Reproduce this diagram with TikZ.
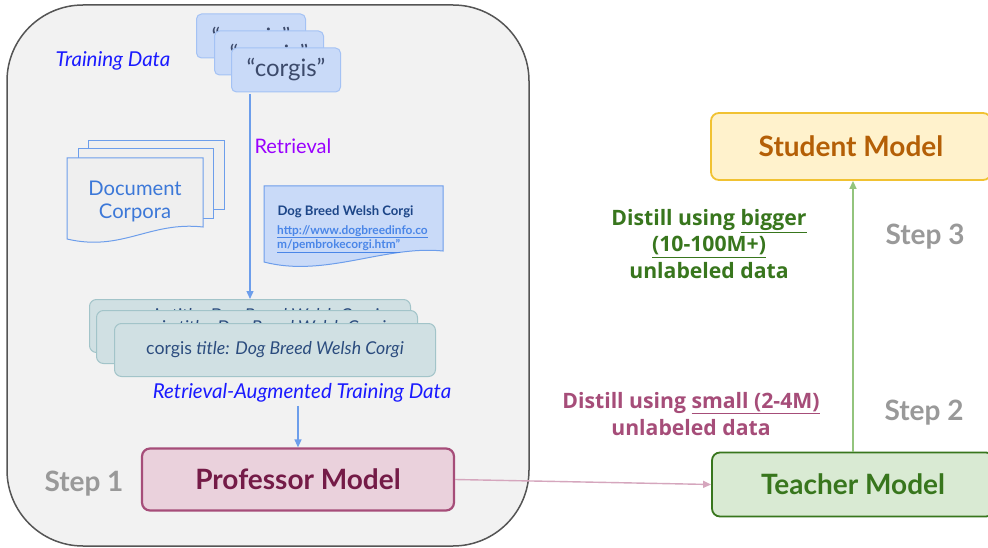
\documentclass[tikz,border=0pt]{standalone}
\usepackage{fontspec}
\setmainfont{Lato}
\newfontfamily\distillfont{Open Sans}
\usetikzlibrary{arrows.meta}

\definecolor{panelfill}{HTML}{F2F2F2}
\definecolor{panelline}{HTML}{555555}
\definecolor{querycard}{HTML}{C9DAF8}
\definecolor{querycardline}{HTML}{A4C2F4}
\definecolor{querytext}{HTML}{3C4A6B}
\definecolor{flowblue}{HTML}{6D9EEB}
\definecolor{labelblue}{HTML}{1A1AFF}
\definecolor{retrpurple}{HTML}{9900FF}
\definecolor{docfill}{HTML}{EFEFEF}
\definecolor{doctext}{HTML}{3C78D8}
\definecolor{titleblue}{HTML}{1C4587}
\definecolor{linkblue}{HTML}{4A86E8}
\definecolor{ragfill}{HTML}{D0E0E3}
\definecolor{ragline}{HTML}{A2C4C9}
\definecolor{ragtext}{HTML}{2B4C7E}
\definecolor{proffill}{HTML}{EAD1DC}
\definecolor{profline}{HTML}{A64D79}
\definecolor{proftext}{HTML}{741B47}
\definecolor{pinkline}{HTML}{D5A6BD}
\definecolor{teachfill}{HTML}{D9EAD3}
\definecolor{teachline}{HTML}{38761D}
\definecolor{studfill}{HTML}{FFF2CC}
\definecolor{studline}{HTML}{F1C232}
\definecolor{studtext}{HTML}{B45F06}
\definecolor{greenline}{HTML}{93C47D}
\definecolor{stepgray}{HTML}{999999}

\tikzset{
  querybox/.style={draw=querycardline, fill=querycard, line width=1pt,
    rounded corners=5pt, minimum width=109pt, minimum height=44pt,
    text=querytext, font=\fontsize{24}{26}\selectfont},
  ragbox/.style={draw=ragline, fill=ragfill, line width=1pt,
    rounded corners=7pt, minimum width=321pt, minimum height=53pt,
    text=ragtext, font=\fontsize{17.7}{20}\selectfont},
  modelbox/.style={rounded corners=8pt, line width=2.2pt,
    font=\bfseries\fontsize{28}{30}\selectfont},
  steplabel/.style={text=stepgray, font=\bfseries\fontsize{28}{30}\selectfont},
  flowarrow/.style={draw=flowblue, line width=1.4pt,
    -{Triangle[length=8pt,width=7pt]}},
  italiclabel/.style={text=labelblue, font=\itshape\fontsize{20.5}{23}\selectfont},
  docsheet/.style={draw=flowblue, line width=1pt, fill=docfill},
  distill/.style={font=\distillfont\bfseries\fontsize{21.2}{26.5}\selectfont,
    align=center}
}

\begin{document}
\begin{tikzpicture}[x=1pt,y=-1pt]
  \useasboundingbox (0,0) rectangle (988,548);
  \clip (0,0) rectangle (988,548);
  \fill[white] (0,0) rectangle (988,548);

  % left panel holding the retrieval stage
  \draw[draw=panelline, fill=panelfill, line width=1.5pt, rounded corners=76pt]
    (7,5) rectangle (529,546);

  \node[italiclabel] (trainlbl) at (113,61) {Training Data};

  % stacked query cards; the rear ones are mostly hidden
  \node[querybox] (q1) at (251,36) {\raisebox{-10pt}[0pt][0pt]{“corgis”}};
  \node[querybox] (q2) at (269,53) {\raisebox{-10pt}[0pt][0pt]{“corgis”}};
  \node[querybox] (q3) at (286,70) {“corgis”};

  % document corpora stack
  \draw[docsheet] (88,141) rectangle (224,210);
  \draw[docsheet] (78,149) rectangle (213,219);
  \draw[docsheet] (67,158) -- (203,158) -- (203,227)
    .. controls (150,221) and (122,252) .. (67,239) -- cycle;
  \node[text=doctext, align=center, font=\fontsize{20.2}{23}\selectfont]
    (corpora) at (135,201) {Document\\Corpora};

  % retrieved document
  \draw[docsheet, fill=querycard] (264,186) -- (443,186) -- (443,251)
    .. controls (385,245) and (325,278) .. (264,262) -- cycle;
  \node[anchor=west, text=titleblue, font=\bfseries\fontsize{13.1}{15}\selectfont]
    (doctitle) at (274,212) {Dog Breed Welsh Corgi};
  \node[anchor=north west, text=linkblue, align=left,
        font=\bfseries\fontsize{11.9}{12.4}\selectfont, inner sep=0pt]
    (doclink) at (277,225)
    {\underline{http://www.dogbreedinfo.co}\\\underline{m/pembrokecorgi.htm"}};

  % retrieval-augmented cards
  \node[ragbox] (r1) at (250,326)
    {\raisebox{5pt}[0pt][0pt]{corgis \textit{title: Dog Breed Welsh Corgi}}};
  \node[ragbox] (r2) at (257,337)
    {\raisebox{4pt}[0pt][0pt]{corgis \textit{title: Dog Breed Welsh Corgi}}};
  \node[ragbox] (r3) at (275,350) {corgis \textit{title: Dog Breed Welsh Corgi}};

  \coordinate (qout) at (250,94);
  \draw[flowarrow] (qout) -- (qout |- r1.north);
  \node[anchor=west, text=retrpurple, font=\fontsize{20}{22}\selectfont]
    (retrlbl) at (251,146) {Retrieval};

  \node[italiclabel] (raglbl) at (302,393) {Retrieval-Augmented Training Data};

  % models
  \node[modelbox, draw=profline, fill=proffill, text=proftext,
        minimum width=312pt, minimum height=62pt] (prof) at (298,479.5)
    {Professor Model};
  \node[modelbox, draw=teachline, fill=teachfill, text=teachline,
        minimum width=282pt, minimum height=64pt, line width=1.8pt] (teach)
    at (853,484.5) {Teacher Model};
  \node[modelbox, draw=studline, fill=studfill, text=studtext,
        minimum width=280pt, minimum height=67pt, line width=1.8pt] (stud)
    at (851,146.5) {Student Model};

  \draw[flowarrow] (prof.north |- raglbl.south) -- (prof.north);

  \draw[draw=pinkline, line width=1.4pt, -{Triangle[length=8pt,width=7pt]}]
    (prof.east) -- (teach.west);
  \draw[draw=greenline, line width=1.4pt, -{Triangle[length=8pt,width=7pt]}]
    (teach.north) -- (teach.north |- stud.south);

  % step labels
  \node[steplabel] (s1) at (84,484) {Step 1};
  \node[steplabel] (s2) at (924,413) {Step 2};
  \node[steplabel] (s3) at (925,237) {Step 3};

  % distillation notes
  \node[distill, text=teachline] (bigger) at (709,244)
    {Distill using \underline{bigger}\\\underline{(10-100M+)}\\unlabeled data};
  \node[distill, text=profline] (small) at (691,414)
    {Distill using \underline{small (2-4M)}\\unlabeled data};
\end{tikzpicture}
\end{document}
